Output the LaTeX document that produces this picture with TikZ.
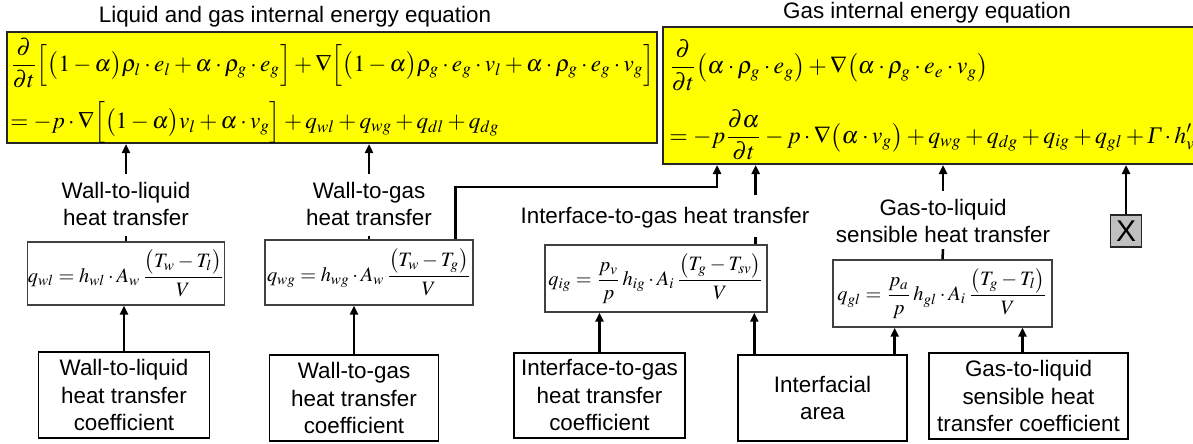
\documentclass[tikz,border=0pt]{standalone}
\usepackage{mathptmx}
\usepackage{amsmath}
\usepackage[no-math]{fontspec}
\setmainfont{Liberation Sans}
\newfontfamily\serifit{Liberation Serif}
\usetikzlibrary{arrows.meta, positioning}
\definecolor{eqyellow}{HTML}{FFFF00}
\definecolor{xgrey}{HTML}{C0C0C0}
\tikzset{
  >={Triangle[length=4.5pt, width=4pt]},
  eqbox/.style={rectangle, draw=black!85, line width=1pt, fill=eqyellow, inner sep=0pt},
  eqtext/.style={align=left, inner sep=0pt, font=\fontsize{11.6}{14}\selectfont},
  qbox/.style={rectangle, draw=black!75, line width=0.7pt, fill=white, inner sep=0pt,
               font=\fontsize{10.2}{12}\selectfont},
  srcbox/.style={rectangle, draw=black, line width=0.7pt, align=center, inner sep=0pt,
                 font=\fontsize{11.2}{13.75}\selectfont},
  xbox/.style={rectangle, draw=black!85, line width=0.7pt, fill=xgrey, inner sep=0pt,
               font=\fontsize{15}{15}\selectfont},
  lbl/.style={align=center, inner sep=0pt, font=\fontsize{11.2}{13.5}\selectfont},
  ttl/.style={inner sep=0pt, font=\fontsize{11.2}{13}\selectfont},
  flow/.style={->, line width=1.25pt, draw=black},
  stub/.style={line width=1.25pt, draw=black},
}

\begin{document}
\begin{tikzpicture}[x=0.5pt, y=-0.5pt]
  \useasboundingbox (0,0) rectangle (1193,444);
  % balance equations
  \node[ttl] (ttlA) at (295,17) {Liquid and gas internal energy equation};
  \node[ttl] (ttlB) at (927,13) {Gas internal energy equation};
  \node[eqbox, minimum width=325pt, minimum height=55.5pt] (eqA) at (332,87.5) {};
  \node[eqtext, anchor=west] (eqAtxt) at (10,91)
    {$\displaystyle \frac{\partial}{\partial t}\Bigl[\bigl(1-\alpha\bigr)\rho_l\cdot e_l+\alpha\cdot\rho_g\cdot e_g\Bigr]+\nabla\Bigl[\bigl(1-\alpha\bigr)\rho_g\cdot e_g\cdot v_l+\alpha\cdot\rho_g\cdot e_g\cdot v_g\Bigr]$\\[6pt]
     $\displaystyle =-p\cdot\nabla\Bigl[\bigl(1-\alpha\bigr)v_l+\alpha\cdot v_g\Bigr]+q_{wl}+q_{wg}+q_{dl}+q_{dg}$};
  \node[eqbox, minimum width=273.5pt, minimum height=68.5pt] (eqB) at (936.5,95.5) {};
  \node[eqtext, font=\fontsize{11.9}{14.3}\selectfont, anchor=west] (eqBtxt) at (669,100)
    {$\displaystyle \frac{\partial}{\partial t}\bigl(\alpha\cdot\rho_g\cdot e_g\bigr)+\nabla\bigl(\alpha\cdot\rho_g\cdot e_e\cdot v_g\bigr)$\\[8.5pt]
     $\displaystyle =-p\frac{\partial\alpha}{\partial t}-p\cdot\nabla\bigl(\alpha\cdot v_g\bigr)+q_{wg}+q_{dg}+q_{ig}+q_{gl}+\text{\serifit\itshape Γ}\cdot h_v^{\prime}$};

  % heat transfer terms
  \node[lbl] (wllbl) at (126,204) {Wall-to-liquid\\heat transfer};
  \node[lbl] (wglbl) at (369,204) {Wall-to-gas\\heat transfer};
  \node[lbl] (iglbl) at (665,218) {Interface-to-gas heat transfer};
  \node[lbl] (gllbl) at (943,221) {Gas-to-liquid\\sensible heat transfer};
  \node[qbox, minimum width=98.5pt, minimum height=31.5pt] (wlq) at (126,273.5)
    {$q_{wl}=h_{wl}\cdot A_w\,\dfrac{\bigl(T_w-T_l\bigr)}{V}$};
  \node[qbox, minimum width=104pt, minimum height=32.5pt] (wgq) at (369,272.5)
    {$q_{wg}=h_{wg}\cdot A_w\,\dfrac{\bigl(T_w-T_g\bigr)}{V}$};
  \node[qbox, minimum width=111pt, minimum height=33.5pt] (igq) at (656,278.5)
    {$q_{ig}=\dfrac{p_v}{p}\,h_{ig}\cdot A_i\,\dfrac{\bigl(T_g-T_{sv}\bigr)}{V}$};
  \node[qbox, minimum width=109.5pt, minimum height=33.5pt] (glq) at (942.5,293.5)
    {$q_{gl}=\dfrac{p_a}{p}\,h_{gl}\cdot A_i\,\dfrac{\bigl(T_g-T_l\bigr)}{V}$};
  \node[xbox, minimum width=15.5pt, minimum height=16pt] (xb) at (1126,231) {X};

  % coefficients
  \node[srcbox, minimum width=85.5pt, minimum height=43pt] (wlc) at (124,395) {Wall-to-liquid\\heat transfer\\coefficient};
  \node[srcbox, minimum width=84.5pt, minimum height=43pt] (wgc) at (354,398) {Wall-to-gas\\heat transfer\\coefficient};
  \node[srcbox, minimum width=85.5pt, minimum height=42.5pt] (igc) at (599.5,395.5) {Interface-to-gas\\heat transfer\\coefficient};
  \node[srcbox, minimum width=84.5pt, minimum height=43pt] (area) at (822.5,398) {Interfacial\\area};
  \node[srcbox, minimum width=99.5pt, minimum height=43pt] (glc) at (1028.5,396) {Gas-to-liquid\\sensible heat\\transfer coefficient};

  \coordinate (wgbend) at (717,187);

  \draw[flow] (wlc.north) -- (wlc.north |- wlq.south);
  \draw[flow] (wgc.north) -- (wgc.north |- wgq.south);
  \draw[flow] (igc.north) -- (igc.north |- igq.south);
  \draw[flow] ([xshift=8.5pt]area.north west) -- ([xshift=8.5pt]area.north west |- igq.south);
  \draw[flow] ([xshift=-6.5pt]area.north east) -- ([xshift=-6.5pt]area.north east |- glq.south);
  \draw[flow] ([xshift=-3pt]glc.north) -- ([xshift=-3pt]glc.north |- glq.south);

  \draw[stub] (wlq.north) -- ([yshift=-5pt]wllbl.south);
  \draw[flow] ([yshift=4pt]wllbl.north) -- (wllbl.north |- eqA.south);
  \draw[stub] (wgq.north) -- ([yshift=-5pt]wglbl.south);
  \draw[flow] ([yshift=4pt]wglbl.north) -- (wglbl.north |- eqA.south);
  \draw[flow] ([xshift=-9pt]wgq.north east) |- (wgbend) -- (wgbend |- eqB.south);
  \draw[stub] ([xshift=-6pt]igq.north east) -- ([xshift=-6pt]igq.north east |- 0,237);
  \draw[flow] ([xshift=-6pt]igq.north east |- 0,195) -- ([xshift=-6pt]igq.north east |- eqB.south);
  \draw[stub] (glq.north) -- ([yshift=-3pt]gllbl.south);
  \draw[flow] ([yshift=4pt]gllbl.north) -- (gllbl.north |- eqB.south);
  \draw[flow] (xb.north) -- (xb.north |- eqB.south);
\end{tikzpicture}
\end{document}
